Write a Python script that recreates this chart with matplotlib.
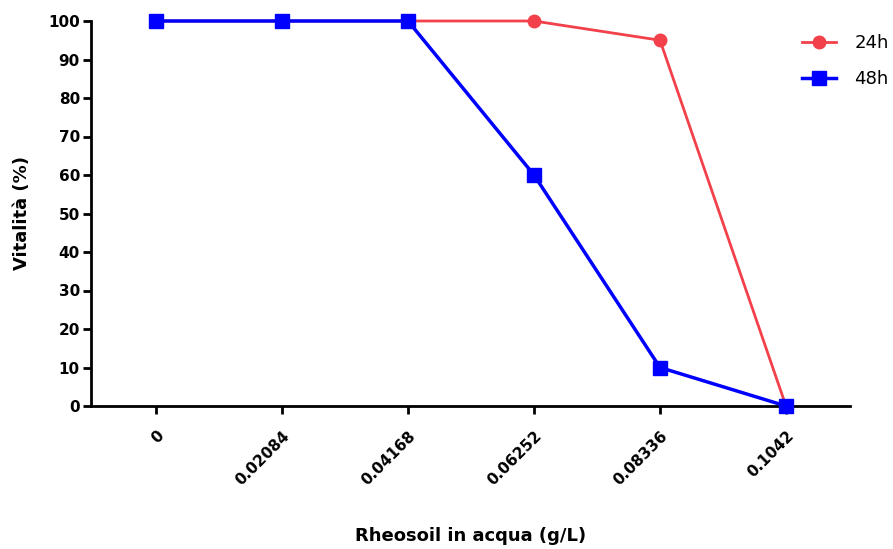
import matplotlib
matplotlib.use("Agg")
import matplotlib.pyplot as plt

categories = ["0", "0.02084", "0.04168", "0.06252", "0.08336", "0.1042"]
vals_24h = [100, 100, 100, 100, 95, 0]
vals_48h = [100, 100, 100, 60, 10, 0]
yticks = [0, 10, 20, 30, 40, 50, 60, 70, 80, 90, 100]

plt.rcParams['font.family'] = ['DejaVu Sans']

fig = plt.figure(figsize=(8.93, 5.49), dpi=100)
ax = fig.add_axes([91/893, 1-406/549, (850-91)/893, (406-21)/549])

x = list(range(len(categories)))
ax.plot(x, vals_24h, color='#F2414A', lw=2, marker='o', ms=9, label='24h', clip_on=False, zorder=3)
ax.plot(x, vals_48h, color='#0000FF', lw=2.5, marker='s', ms=9.5, label='48h', clip_on=False, zorder=4)

ax.set_xlim(-0.516, 5.508)
ax.set_ylim(0, 100)
ax.set_yticks(yticks)
ax.set_yticklabels([str(v) for v in yticks], fontsize=11, fontweight='bold')
ax.set_xticks(x)
ax.set_xticklabels(categories, rotation=45, ha='right', rotation_mode='anchor', fontsize=11, fontweight='bold')

for s in ['top', 'right']:
    ax.spines[s].set_visible(False)
for s in ['left', 'bottom']:
    ax.spines[s].set_linewidth(2)
ax.tick_params(axis='both', width=2, length=6, direction='out')
ax.tick_params(axis='y', pad=2)
ax.tick_params(axis='x', pad=10)

ax.set_ylabel('Vitalità (%)', fontsize=13, fontweight='bold', labelpad=12)
ax.set_xlabel('Rheosoil in acqua (g/L)', fontsize=13, fontweight='bold', labelpad=28)

leg = fig.legend(loc='upper left', bbox_to_anchor=(802/893, 1-34/549), frameon=False, fontsize=13,
                 handlelength=1.9, handletextpad=1.0, labelspacing=1.0, borderpad=0, borderaxespad=0)

fig.savefig('out.png', dpi=100)
